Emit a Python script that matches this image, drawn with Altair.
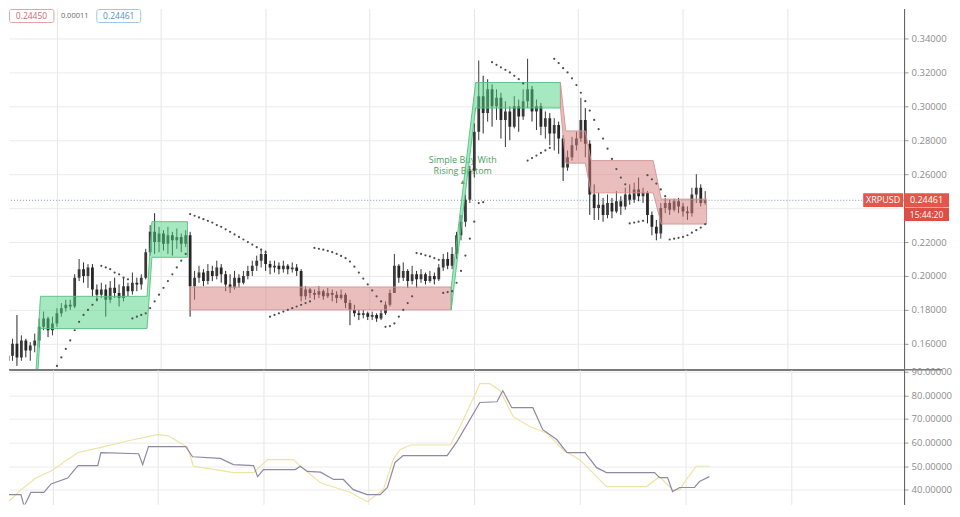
import altair as alt
import pandas as pd

# ---------------- data ----------------
first_open = 0.150
close = [0.153, 0.160, 0.152, 0.162, 0.156, 0.159, 0.162, 0.170, 0.175, 0.168,
         0.172, 0.178, 0.181, 0.183, 0.182, 0.199, 0.204, 0.200, 0.205, 0.192,
         0.189, 0.192, 0.186, 0.193, 0.190, 0.187, 0.194, 0.191, 0.196, 0.195,
         0.199, 0.214, 0.226, 0.220, 0.225, 0.219, 0.224, 0.221, 0.223, 0.219,
         0.224, 0.194, 0.199, 0.202, 0.197, 0.203, 0.200, 0.205, 0.201, 0.195,
         0.193, 0.199, 0.196, 0.200, 0.203, 0.206, 0.209, 0.213, 0.207, 0.205,
         0.206, 0.204, 0.206, 0.204, 0.205, 0.203, 0.188, 0.192, 0.190, 0.189,
         0.191, 0.188, 0.190, 0.189, 0.187, 0.189, 0.184, 0.180, 0.178, 0.177,
         0.178, 0.176, 0.177, 0.175, 0.178, 0.183, 0.190, 0.206, 0.199, 0.203,
         0.197, 0.201, 0.198, 0.201, 0.197, 0.200, 0.198, 0.205, 0.210, 0.206,
         0.213, 0.224, 0.232, 0.245, 0.262, 0.285, 0.306, 0.296, 0.310, 0.300,
         0.305, 0.292, 0.297, 0.288, 0.300, 0.294, 0.303, 0.310, 0.297, 0.300,
         0.288, 0.293, 0.284, 0.289, 0.281, 0.264, 0.270, 0.277, 0.281, 0.292,
         0.278, 0.248, 0.240, 0.242, 0.236, 0.243, 0.238, 0.244, 0.241, 0.248,
         0.245, 0.251, 0.247, 0.249, 0.236, 0.229, 0.225, 0.240, 0.243, 0.239,
         0.244, 0.241, 0.238, 0.237, 0.248, 0.252, 0.243, 0.2446]
high = [0.156, 0.163, 0.177, 0.165, 0.163, 0.161, 0.166, 0.175, 0.179, 0.176,
        0.176, 0.181, 0.184, 0.186, 0.186, 0.201, 0.210, 0.208, 0.207, 0.207,
        0.195, 0.196, 0.195, 0.197, 0.199, 0.195, 0.199, 0.196, 0.202, 0.199,
        0.201, 0.216, 0.230, 0.237, 0.229, 0.227, 0.229, 0.226, 0.228, 0.225,
        0.227, 0.226, 0.203, 0.206, 0.204, 0.207, 0.206, 0.209, 0.207, 0.203,
        0.201, 0.203, 0.201, 0.203, 0.206, 0.209, 0.212, 0.216, 0.215, 0.209,
        0.209, 0.208, 0.209, 0.207, 0.208, 0.207, 0.204, 0.194, 0.193, 0.192,
        0.194, 0.192, 0.193, 0.192, 0.191, 0.192, 0.190, 0.186, 0.183, 0.180,
        0.180, 0.179, 0.179, 0.178, 0.180, 0.185, 0.192, 0.213, 0.207, 0.208,
        0.204, 0.206, 0.203, 0.204, 0.202, 0.203, 0.202, 0.207, 0.213, 0.214,
        0.217, 0.226, 0.236, 0.248, 0.265, 0.290, 0.327, 0.318, 0.316, 0.313,
        0.310, 0.308, 0.303, 0.300, 0.306, 0.304, 0.310, 0.328, 0.312, 0.304,
        0.302, 0.297, 0.296, 0.293, 0.291, 0.283, 0.274, 0.282, 0.285, 0.305,
        0.299, 0.280, 0.254, 0.249, 0.246, 0.248, 0.246, 0.250, 0.247, 0.252,
        0.254, 0.255, 0.258, 0.252, 0.250, 0.238, 0.233, 0.243, 0.246, 0.245,
        0.2455, 0.246, 0.243, 0.241, 0.252, 0.260, 0.254, 0.250]
low = [0.146, 0.150, 0.147, 0.150, 0.152, 0.150, 0.155, 0.158, 0.168, 0.164,
       0.165, 0.170, 0.176, 0.179, 0.180, 0.181, 0.197, 0.196, 0.193, 0.188,
       0.185, 0.187, 0.176, 0.184, 0.187, 0.182, 0.185, 0.188, 0.189, 0.191,
       0.192, 0.198, 0.212, 0.213, 0.214, 0.215, 0.213, 0.212, 0.216, 0.214,
       0.217, 0.176, 0.186, 0.196, 0.194, 0.195, 0.197, 0.198, 0.196, 0.191,
       0.190, 0.192, 0.193, 0.195, 0.198, 0.200, 0.203, 0.205, 0.203, 0.201,
       0.202, 0.201, 0.202, 0.201, 0.202, 0.200, 0.185, 0.186, 0.187, 0.186,
       0.187, 0.186, 0.187, 0.185, 0.184, 0.186, 0.181, 0.171, 0.176, 0.174,
       0.175, 0.174, 0.174, 0.173, 0.174, 0.177, 0.182, 0.190, 0.196, 0.197,
       0.193, 0.195, 0.193, 0.196, 0.195, 0.196, 0.195, 0.197, 0.203, 0.204,
       0.204, 0.210, 0.221, 0.229, 0.243, 0.258, 0.280, 0.284, 0.291, 0.288,
       0.292, 0.281, 0.276, 0.280, 0.287, 0.285, 0.292, 0.299, 0.291, 0.286,
       0.283, 0.281, 0.277, 0.274, 0.272, 0.256, 0.262, 0.268, 0.274, 0.279,
       0.270, 0.236, 0.233, 0.233, 0.232, 0.234, 0.234, 0.237, 0.236, 0.239,
       0.242, 0.243, 0.244, 0.243, 0.231, 0.224, 0.221, 0.222, 0.237, 0.236,
       0.238, 0.237, 0.235, 0.233, 0.235, 0.243, 0.241, 0.242]

sar_bar = (list(range(11, 21)) + list(range(21, 28)) + list(range(28, 41)) +
           list(range(41, 59)) + list(range(59, 69)) + list(range(69, 85)) +
           list(range(85, 92)) + list(range(92, 98)) + list(range(98, 108)) +
           list(range(109, 117)) + list(range(117, 123)) + list(range(123, 140)) +
           list(range(140, 144)) + list(range(144, 149)) + list(range(149, 158)))
sar_value = [0.147, 0.152, 0.157, 0.162, 0.168, 0.173, 0.177, 0.180, 0.183, 0.186,
             0.206, 0.205, 0.204, 0.202, 0.201, 0.199, 0.198,
             0.175, 0.176, 0.177, 0.178, 0.181, 0.185, 0.189, 0.193, 0.197, 0.201, 0.205, 0.209, 0.213,
             0.2365, 0.2355, 0.2345, 0.2335, 0.2325, 0.2315, 0.230, 0.229, 0.2275, 0.226,
             0.2245, 0.223, 0.2215, 0.220, 0.2185, 0.217, 0.2155, 0.214,
             0.176, 0.177, 0.178, 0.179, 0.180, 0.181, 0.182, 0.183, 0.184, 0.185,
             0.2165, 0.2160, 0.2155, 0.2148, 0.2140, 0.2130, 0.2118, 0.2105, 0.2085, 0.2055,
             0.2020, 0.1985, 0.1950, 0.1915, 0.1880, 0.1850,
             0.170, 0.1705, 0.172, 0.176, 0.180, 0.184, 0.188,
             0.2135, 0.213, 0.2122, 0.2115, 0.2105, 0.2095,
             0.190, 0.1905, 0.191, 0.196, 0.203, 0.212, 0.222, 0.232, 0.243, 0.2435,
             0.326, 0.3245, 0.323, 0.3215, 0.320, 0.318, 0.316, 0.3135,
             0.268, 0.2695, 0.271, 0.2725, 0.274, 0.2755,
             0.328, 0.3255, 0.3225, 0.320, 0.3165, 0.3125, 0.308, 0.303, 0.2975, 0.292,
             0.2865, 0.281, 0.275, 0.269, 0.263, 0.258, 0.254,
             0.231, 0.2315, 0.232, 0.2325,
             0.2594, 0.257, 0.2545, 0.251, 0.247,
             0.2215, 0.222, 0.2225, 0.223, 0.224, 0.2255, 0.227, 0.2285, 0.2305]

zone_seg = ["A"] * 5 + ["B"] * 2 + ["C"] * 3 + ["D"] * 7
zone_kind = ["bull"] * 5 + ["bear"] * 2 + ["bull"] * 3 + ["bear"] * 7
zone_bar = [6.2, 7.3, 31.3, 32.4, 40.4,
            40.9, 99.8,
            99.8, 105.3, 124.4,
            124.4, 125.6, 130.0, 131.3, 145.3, 147.1, 157.3]
zone_top = [0.140, 0.188, 0.188, 0.232, 0.232,
            0.1935, 0.1935,
            0.1935, 0.314, 0.314,
            0.314, 0.2855, 0.2855, 0.268, 0.268, 0.2453, 0.2453]
zone_bottom = [0.120, 0.169, 0.169, 0.211, 0.211,
               0.180, 0.180,
               0.180, 0.299, 0.299,
               0.299, 0.2665, 0.2665, 0.249, 0.249, 0.2306, 0.2306]

osc_bar = [-0.4, 4.0, 4.7, 6.2, 9.1, 10.7, 14.4, 16.7, 21.1, 21.8, 30.2, 31.1, 32.4, 40.7,
           42.2, 48.4, 51.3, 55.8, 56.7, 58.0, 65.1, 66.2, 67.8, 70.7, 73.6, 75.8, 78.0,
           81.1, 84.0, 85.6, 87.3, 89.1, 98.9, 101.1, 106.2, 110.0, 111.3, 113.3, 118.0,
           120.2, 123.3, 125.6, 129.6, 132.2, 134.4, 145.1, 146.2, 148.0, 149.1, 150.7,
           154.0, 155.1, 157.3]
osc_value = [38.0, 38.0, 33.0, 38.9, 38.9, 42.5, 45.0, 50.3, 50.3, 55.8, 55.3, 50.7, 58.3,
             58.3, 54.0, 53.3, 50.7, 50.3, 45.6, 48.6, 48.6, 50.0, 47.8, 47.5, 44.4, 44.4,
             40.1, 38.0, 38.0, 41.0, 51.6, 54.5, 54.5, 60.4, 77.0, 77.3, 82.0, 74.8, 74.8,
             65.5, 61.3, 55.8, 55.8, 49.4, 47.3, 47.3, 45.2, 45.2, 39.3, 41.0, 41.0, 43.5, 45.6]
sig_bar = [-0.4, 1.8, 4.0, 7.3, 10.7, 16.7, 21.8, 28.4, 34.4, 36.7, 41.1, 42.4, 47.3, 51.3,
           55.8, 58.9, 64.7, 66.2, 70.7, 77.3, 81.1, 84.7, 86.9, 88.4, 90.7, 99.6, 101.8,
           105.6, 106.2, 108.4, 110.7, 113.6, 117.3, 121.1, 124.7, 128.4, 131.3, 134.4,
           143.3, 146.2, 149.1, 150.7, 152.2, 154.4, 157.3]
sig_value = [33, 36, 40, 45, 48, 55.8, 58, 61, 63.4, 63, 58, 50, 48.6, 47.3, 47.3, 52.8,
             52.8, 50, 43, 39, 35, 40, 53, 57, 59, 59, 66.8, 82.4, 85, 85, 82, 71, 66.8,
             64, 57, 52.8, 47.3, 41.4, 41.4, 45.6, 40, 40, 44.4, 50, 50]

price_ticks = [0.16, 0.18, 0.20, 0.22, 0.24, 0.26, 0.28, 0.30, 0.32, 0.34]
osc_ticks = [40, 50, 60, 70, 80, 90]
time_grid = [11.1, 34.4, 58.0, 81.3, 104.9, 128.4, 152.0, 175.6]

symbol = "XRPUSD"
last_price = 0.24461
prev_price = 0.24450
change = 0.00011
countdown = "15:44:20"
note_lines = ["Simple Buy With", "Rising Bottom"]
note_bar = 102.4
note_price = [0.2685, 0.2617]
arrow_price = 0.2553

# ---------------- tables ----------------
opens = [first_open] + close[:-1]
candles = pd.DataFrame({"t": list(range(len(close))), "open": opens, "high": high,
                        "low": low, "close": close})
candles["dir"] = ["up" if c >= o else "down" for o, c in zip(opens, close)]
sar = pd.DataFrame({"t": sar_bar, "v": sar_value})
zones = pd.DataFrame({"seg": zone_seg, "kind": zone_kind, "t": zone_bar,
                      "top": zone_top, "bottom": zone_bottom})
osc = pd.DataFrame({"t": osc_bar, "v": osc_value})
sig = pd.DataFrame({"t": sig_bar, "v": sig_value})
notes = pd.DataFrame({"t": [note_bar] * 2, "p": note_price, "txt": note_lines})
one = pd.DataFrame({"a": [0]})

W, H1, H2 = 897, 362, 135
FONT = "Open Sans"

XS = alt.Scale(domain=[1.333, 200.67], nice=False, zero=False)
YP = alt.Scale(domain=[0.14471, 0.35765], nice=False, zero=False)
YO = alt.Scale(domain=[33.81, 90.85], nice=False, zero=False)

x_axis_top = alt.Axis(values=time_grid, grid=True, gridColor="#e6e6e6", labels=False,
                      ticks=False, domain=True, domainColor="#7a7a7a", domainWidth=1.5,
                      title=None)
x_axis_bot = alt.Axis(values=time_grid, grid=True, gridColor="#e6e6e6", labels=False,
                      ticks=False, domain=False, title=None)
# the label of the tick that sits under the live-price tag is hidden, as in the reference
y_axis_p = alt.Axis(orient="right", values=price_ticks, grid=True,
                    labelExpr=f"abs(datum.value - {last_price}) < 0.005 ? '' : format(datum.value, '.5f')",
                    gridColor="#ebebeb", labelColor="#8c8c8c", labelFont=FONT,
                    labelFontSize=9.5, tickColor="#9a9a9a", tickSize=4, labelPadding=3,
                    domainColor="#555555", title=None)
y_axis_o = alt.Axis(orient="right", values=osc_ticks, format=".5f", grid=True,
                    gridColor="#ebebeb", labelColor="#8c8c8c", labelFont=FONT,
                    labelFontSize=9.5, tickColor="#9a9a9a", tickSize=4, labelPadding=3,
                    domainColor="#555555", title=None)


def XT(f="t:Q"):
    return alt.X(f, scale=XS, axis=x_axis_top)


def YT(f):
    return alt.Y(f, scale=YP, axis=y_axis_p)


# ---------------- top panel ----------------
note_layer = alt.Chart(notes).mark_text(color="#4e9e63", fontSize=9, font=FONT,
                                        clip=True).encode(
    x=XT(), y=YT("p:Q"), text="txt:N")
tri_layer = alt.Chart(pd.DataFrame({"t": [note_bar], "p": [arrow_price]})).mark_text(
    text="▲", color="#6f8f78", fontSize=7, clip=True).encode(x=XT(), y=YT("p:Q"))

price_line = alt.Chart(pd.DataFrame({"p": [last_price]})).mark_rule(
    color="#8596ad", strokeDash=[1, 2], strokeWidth=1).encode(y=YT("p:Q"))

wicks = alt.Chart(candles).mark_rule(strokeWidth=1, clip=True).encode(
    x=XT(), y=YT("low:Q"), y2="high:Q",
    color=alt.Color("dir:N", scale=alt.Scale(domain=["up", "down"],
                                             range=["#3a3a3a", "#262626"]), legend=None))
bodies = alt.Chart(candles).mark_bar(size=2.8, clip=True).encode(
    x=XT(), y=YT("open:Q"), y2="close:Q",
    color=alt.Color("dir:N", scale=alt.Scale(domain=["up", "down"],
                                             range=["#4a4a4a", "#262626"]), legend=None))

zone_layer = alt.Chart(zones).mark_area(fillOpacity=0.5, strokeWidth=1, strokeOpacity=0.9,
                                        interpolate="linear", clip=True).encode(
    x=XT(), y=YT("top:Q"), y2="bottom:Q",
    detail="seg:N",
    fill=alt.Fill("kind:N", scale=alt.Scale(domain=["bull", "bear"],
                                            range=["#4dd181", "#d77d7d"]), legend=None),
    stroke=alt.Stroke("kind:N", scale=alt.Scale(domain=["bull", "bear"],
                                                range=["#55bf80", "#d49494"]), legend=None))

sar_layer = alt.Chart(sar).mark_circle(size=5, color="#505050", opacity=1, clip=True).encode(
    x=XT(), y=YT("v:Q"))

# separator between the two panes, running under the price scale too
sep = alt.Chart(one).mark_rule(color="#7a7a7a", strokeWidth=1.5).encode(
    x=alt.value(0), x2=alt.value(935), y=alt.value(H1))

RED = "#e3564b"
sym_box = alt.Chart(one).mark_rect(color=RED).encode(
    x=alt.value(856), x2=alt.value(896), y=alt.value(185), y2=alt.value(199))
sym_txt = alt.Chart(one).mark_text(text=symbol, color="white", fontSize=9, font=FONT,
                                   align="center", baseline="middle").encode(
    x=alt.value(876), y=alt.value(192))
px_box = alt.Chart(one).mark_rect(color=RED).encode(
    x=alt.value(897), x2=alt.value(942), y=alt.value(185), y2=alt.value(199))
px_txt = alt.Chart(one).mark_text(text=f"{last_price:.5f}", color="white", fontSize=9,
                                  font=FONT, align="center", baseline="middle").encode(
    x=alt.value(919.5), y=alt.value(192))
tm_box = alt.Chart(one).mark_rect(color="#dc4f45").encode(
    x=alt.value(897), x2=alt.value(942), y=alt.value(199.5), y2=alt.value(213))
tm_txt = alt.Chart(one).mark_text(text=countdown, color="white", fontSize=8.5, font=FONT,
                                  align="center", baseline="middle").encode(
    x=alt.value(919.5), y=alt.value(206.5))

leg1_box = alt.Chart(one).mark_rect(fill="white", stroke="#e2a3a3", strokeWidth=1,
                                    cornerRadius=2).encode(
    x=alt.value(0.5), x2=alt.value(45), y=alt.value(1), y2=alt.value(14))
leg1_txt = alt.Chart(one).mark_text(text=f"{prev_price:.5f}", color="#cf6a6a", fontSize=8.5,
                                    font=FONT, align="center", baseline="middle").encode(
    x=alt.value(22.5), y=alt.value(7.5))
leg2_txt = alt.Chart(one).mark_text(text=f"{change:.5f}", color="#666666", fontSize=7.5,
                                    font=FONT, align="left", baseline="middle").encode(
    x=alt.value(52), y=alt.value(7.5))
leg3_box = alt.Chart(one).mark_rect(fill="white", stroke="#a3c6e2", strokeWidth=1,
                                    cornerRadius=2).encode(
    x=alt.value(88), x2=alt.value(132), y=alt.value(1), y2=alt.value(14))
leg3_txt = alt.Chart(one).mark_text(text=f"{last_price:.5f}", color="#5b8fbd", fontSize=8.5,
                                    font=FONT, align="center", baseline="middle").encode(
    x=alt.value(110), y=alt.value(7.5))

top = alt.layer(price_line, note_layer, tri_layer, wicks, bodies, zone_layer, sar_layer,
                sep, sym_box, sym_txt, px_box, px_txt, tm_box, tm_txt,
                leg1_box, leg1_txt, leg2_txt, leg3_box, leg3_txt).properties(
    width=W, height=H1)

# ---------------- bottom panel ----------------
XB = alt.X("t:Q", scale=XS, axis=x_axis_bot)
sig_layer = alt.Chart(sig).mark_line(color="#f0e2a2", strokeWidth=1.2, clip=True).encode(
    x=XB, y=alt.Y("v:Q", scale=YO, axis=y_axis_o))
osc_layer = alt.Chart(osc).mark_line(color="#9089a3", strokeWidth=1.2, clip=True).encode(
    x=XB, y=alt.Y("v:Q", scale=YO, axis=y_axis_o))
bottom = alt.layer(sig_layer, osc_layer).properties(width=W, height=H2)

chart = alt.vconcat(top, bottom, spacing=0, bounds="flush").resolve_scale(
    x="independent", y="independent").properties(
    padding=0, background="white").configure_view(stroke=None)

chart.save("out.html", embed_options={"renderer": "svg", "actions": False})
